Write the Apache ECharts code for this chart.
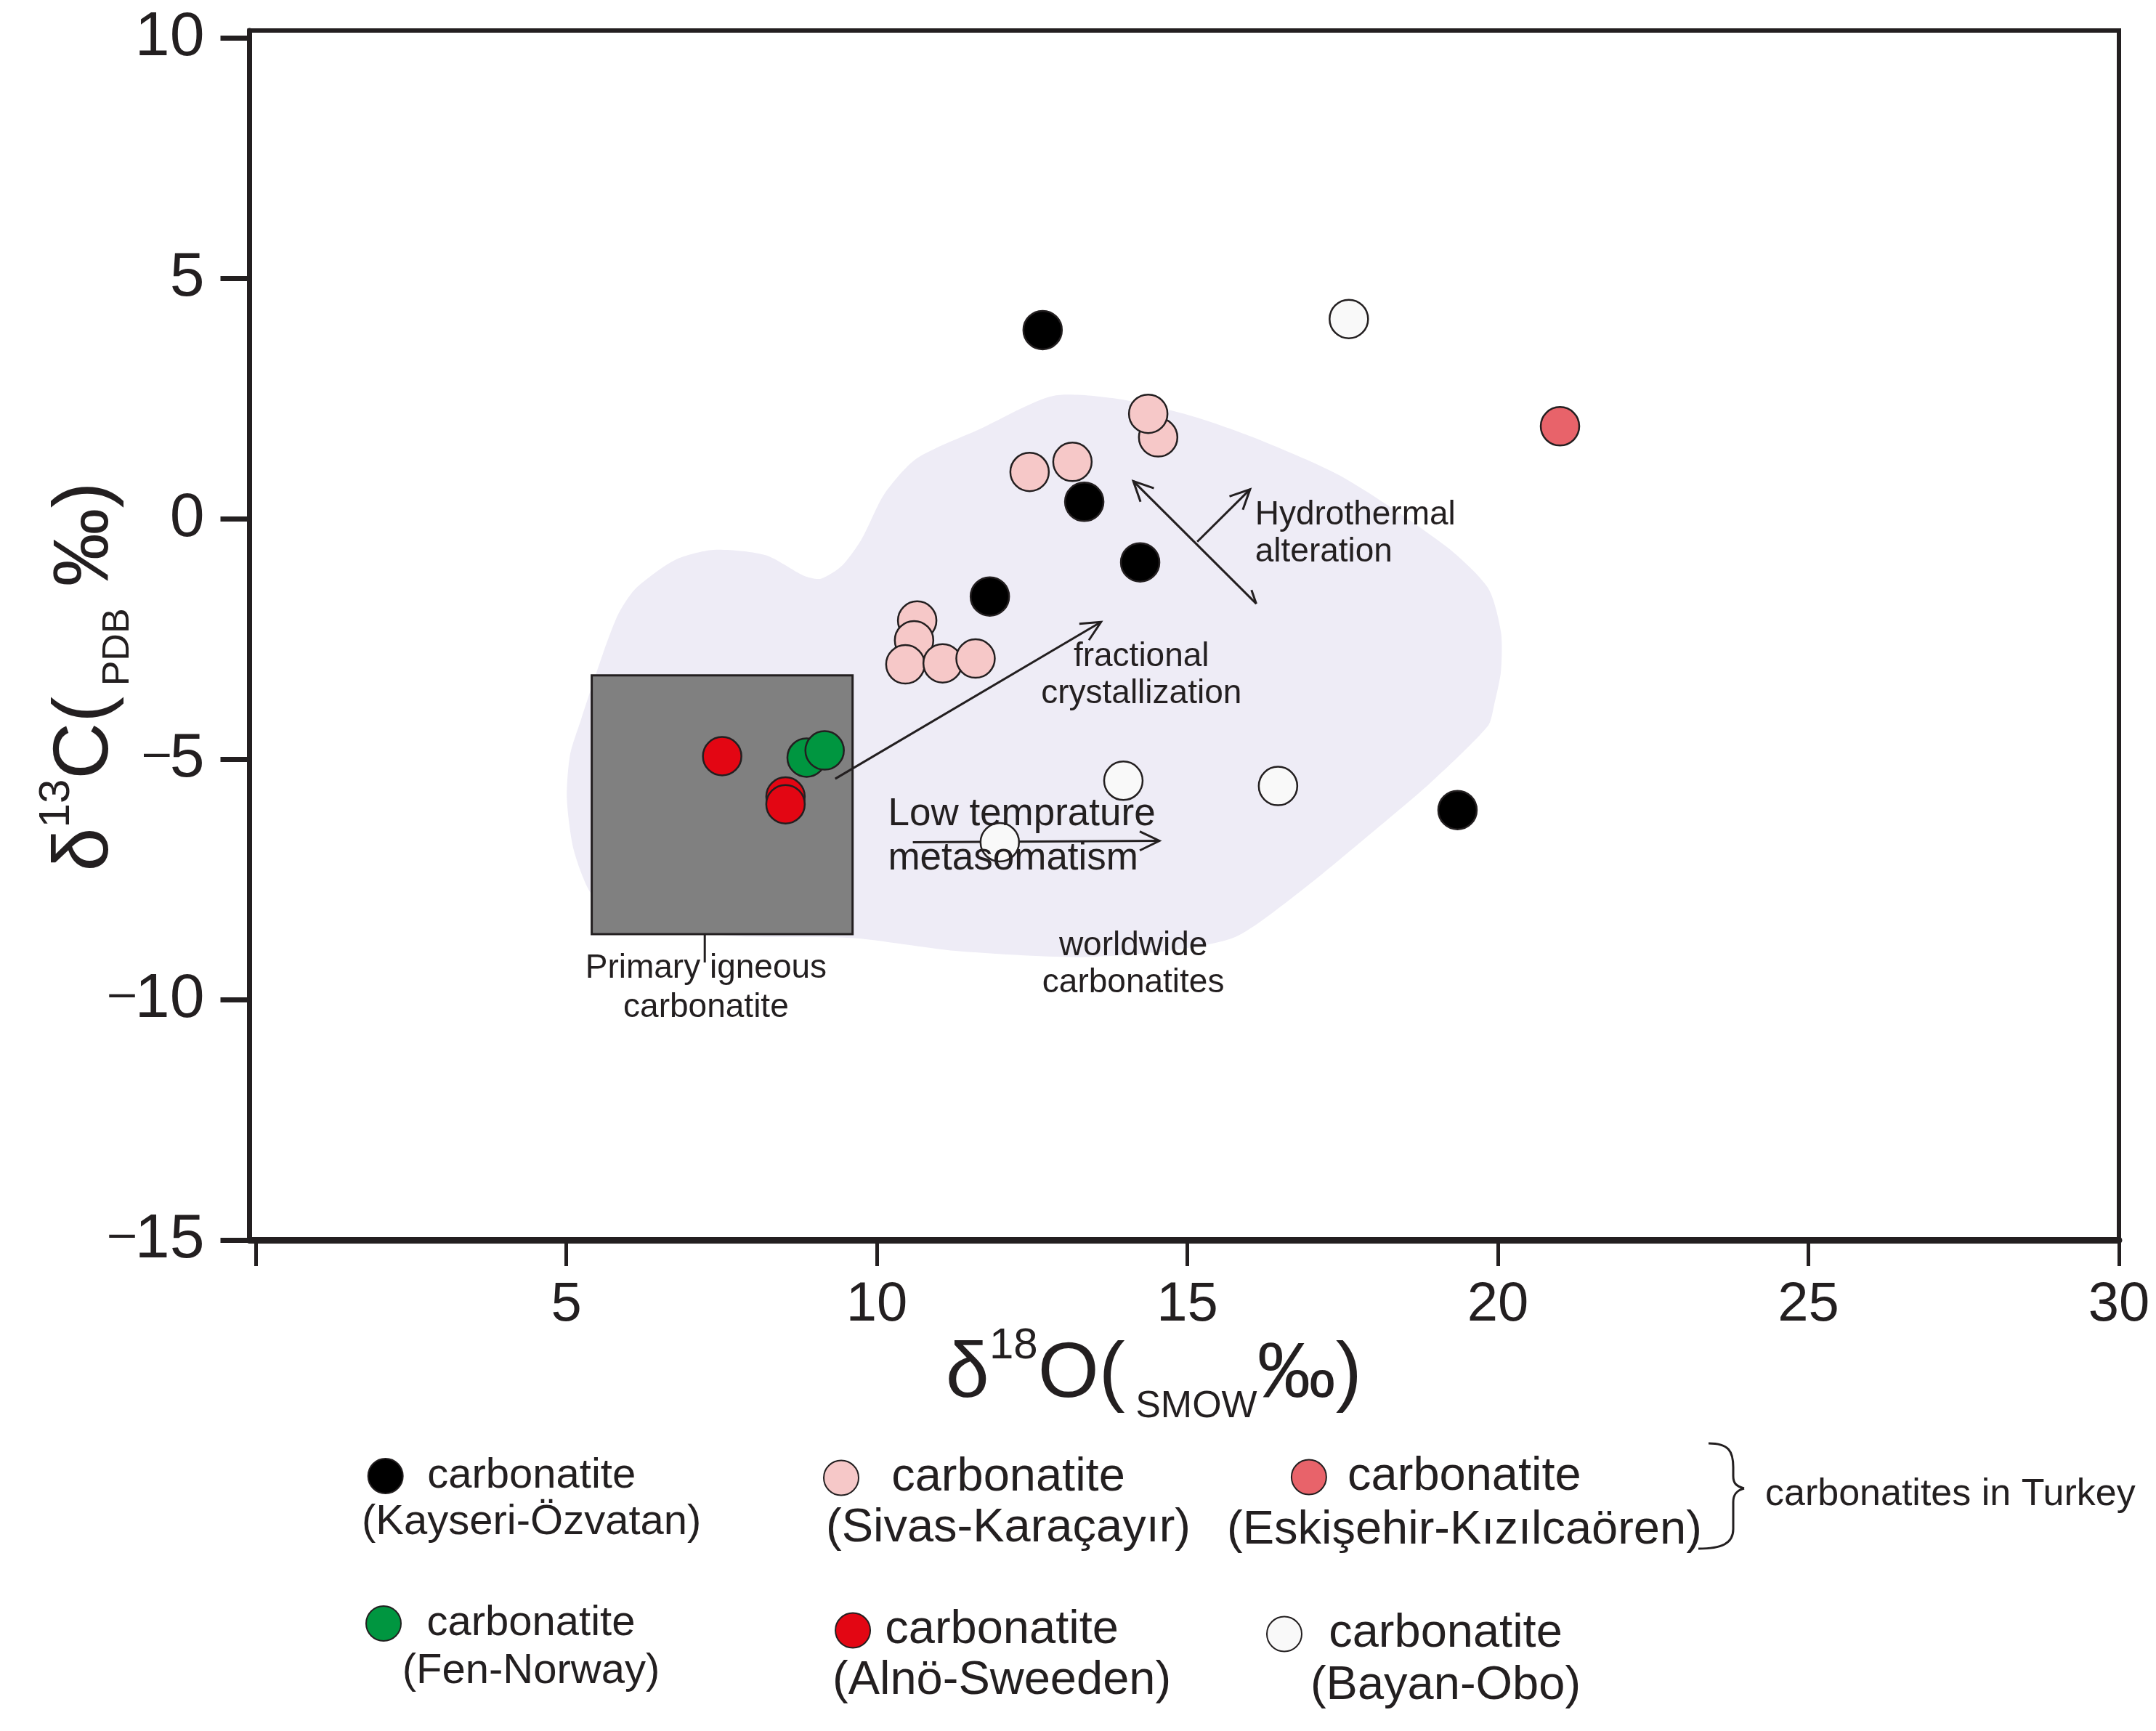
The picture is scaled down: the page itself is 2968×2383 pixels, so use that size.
<!DOCTYPE html>
<html><head><meta charset="utf-8">
<script src="https://cdn.jsdelivr.net/npm/echarts@6/dist/echarts.min.js"></script>
<style>html,body{margin:0;padding:0;background:#fff}#c{width:2968px;height:2383px}</style>
</head><body><div id="c"></div>
<script>
// ---- axis ticks ----
const xTicks = [0, 5, 10, 15, 20, 25, 30];
const xLabels = [5, 10, 15, 20, 25, 30];
const yTicks = [-15, -10, -5, 0, 5, 10];

// ---- data (δ18O SMOW, δ13C PDB) ----
const kayseri   = [[12.67, 3.92], [13.34, 0.35], [14.24, -0.91], [11.82, -1.62], [19.35, -6.06]];
const sivas     = [[14.53, 1.69], [14.37, 2.18], [12.46, 0.97], [13.15, 1.18], [10.65, -2.12], [10.60, -2.53], [10.46, -3.03], [11.06, -3.01], [11.59, -2.91]];
const eskisehir = [[21.0, 1.92]];
const fen       = [[8.87, -4.97], [9.16, -4.82]];
const alno      = [[7.51, -4.94], [8.53, -5.78], [8.53, -5.94]];
const bayan     = [[17.60, 4.15], [13.97, -5.45], [16.46, -5.56], [11.98, -6.73]];

// worldwide carbonatites field outline (data units)
const worldwideField = [[5.01,-5.83],[5.06,-4.92],[5.24,-4.17],[5.59,-2.81],[5.84,-1.98],[6.12,-1.45],[6.75,-0.86],[7.37,-0.65],[8.21,-0.76],[8.83,-1.19],[9.10,-1.25],[9.44,-0.98],[9.75,-0.44],[10.12,0.51],[10.64,1.25],[11.67,1.87],[12.83,2.55],[13.87,2.49],[15.08,2.13],[16.12,1.66],[17.52,0.85],[19.16,-0.57],[19.84,-1.44],[20.05,-2.36],[20.05,-3.17],[19.94,-3.87],[19.84,-4.31],[18.90,-5.51],[17.86,-6.65],[16.81,-7.76],[15.77,-8.70],[14.60,-9.00],[13.19,-9.12],[11.27,-8.99],[9.60,-8.72],[7.58,-8.67],[5.82,-8.28],[5.39,-7.78],[5.12,-6.89]];
// primary igneous carbonatite box [xMin, yMin, xMax, yMax] and leader line
const primaryBox = [5.41, -8.64, 9.61, -3.26];
const primaryLeader = [7.23, -8.64, 7.23, -9.23];
// trend arrows [x1, y1, x2, y2, headAtEnd, halfHeadAtStart]
const trendArrows = [
  [9.33, -5.41, 13.61, -2.15, 1, 0],
  [16.11, -1.77, 14.13, 0.78, 1, 1],
  [15.16, -0.48, 16.01, 0.61, 1, 0],
  [10.58, -6.73, 14.55, -6.70, 1, 0]
];
// annotation texts and anchors
const noteTexts = ['Hydrothermal\nalteration', 'fractional\ncrystallization', 'Low temprature\nmetasomatism', 'worldwide\ncarbonatites', 'Primary igneous\ncarbonatite'];
const notePos = [[16.09, -0.32], [14.26, -3.26], [10.18, -6.62], [14.13, -9.27], [7.25, -9.76]];

const seriesNames = ['carbonatite (Kayseri-Özvatan)', 'carbonatite (Sivas-Karaçayır)', 'carbonatite (Eskişehir-Kızılcaören)', 'carbonatite (Fen-Norway)', 'carbonatite (Alnö-Sweeden)', 'carbonatite (Bayan-Obo)'];
const seriesData = [kayseri, sivas, eskisehir, fen, alno, bayan];

// ---- styles ----
const FONT = "'Liberation Sans', Arial, Helvetica, sans-serif";
const INK = '#231f20';
const colors = ['#000000', '#f6c8c8', '#e8636a', '#009640', '#e30613', '#f9f9f9'];
const noteStyle = [
  {fontSize: 46, lineHeight: 51, align: 'left'},
  {fontSize: 46, lineHeight: 51, align: 'center'},
  {fontSize: 53, lineHeight: 61, align: 'left'},
  {fontSize: 46, lineHeight: 51, align: 'center'},
  {fontSize: 46, lineHeight: 54, align: 'center'}
];
// legend layout: bounding left, block top, text width, font, line height
const legendLayout = [
  {left: 498,  top: 1939, w: 342, fs: 58, lh: 64},
  {left: 1133, top: 1932, w: 400, fs: 65, lh: 70},
  {left: 1689, top: 1927, w: 368, fs: 65, lh: 74},
  {left: 503,  top: 2140, w: 346, fs: 58, lh: 66},
  {left: 1146, top: 2142, w: 350, fs: 65, lh: 70},
  {left: 1743, top: 2145, w: 384, fs: 65, lh: 72}
];

const yLabelFmt = v => (v < 0 ? '{d|\u2013}{n|' + Math.abs(v) + '}' : '{n|' + v + '}');

const chart = echarts.init(document.getElementById('c'), null, {renderer: 'canvas'});

const scatterSeries = seriesNames.map((name, i) => ({
  name: name,
  type: 'scatter',
  data: seriesData[i],
  symbol: 'circle',
  symbolSize: 53,
  z: 4,
  itemStyle: {color: colors[i], borderColor: INK, borderWidth: 2.5, opacity: 1},
  emphasis: {disabled: true}
}));

const legends = seriesNames.map((name, i) => {
  const L = legendLayout[i];
  const place = name.replace('carbonatite ', '');
  return {
    show: true,
    data: [name],
    left: L.left, top: L.top,
    padding: 0,
    itemWidth: 50, itemHeight: 48,
    selectedMode: false,
    formatter: () => '{s| }\n{a|carbonatite}\n{b|' + place + '}',
    textStyle: {
      width: L.w,
      color: INK,
      fontFamily: FONT,
      fontSize: L.fs,
      rich: {
        s: {fontSize: L.fs, lineHeight: L.lh, fontFamily: FONT},
        a: {fontSize: L.fs, lineHeight: L.lh, align: 'center', color: INK, fontFamily: FONT},
        b: {fontSize: L.fs, lineHeight: L.lh, align: 'center', color: INK, fontFamily: FONT}
      }
    }
  };
});

const titleRich = {
  m: {fontSize: 108, lineHeight: 140, color: INK, fontFamily: FONT},
  sup: {fontSize: 60, lineHeight: 62, verticalAlign: 'top', color: INK, fontFamily: FONT},
  sub: {fontSize: 52, lineHeight: 84, verticalAlign: 'bottom', color: INK, fontFamily: FONT}
};

const braceStyle = {stroke: INK, lineWidth: 3, fill: null};

const option = {
  animation: false,
  backgroundColor: '#ffffff',
  grid: {left: 343.5, right: 51, top: 42, bottom: 676, show: true, borderColor: INK, borderWidth: 6, backgroundColor: 'transparent', containLabel: false, outerBoundsMode: 'none'},
  xAxis: {
    type: 'value', min: -0.1, max: 30,
    axisLine: {onZero: false, lineStyle: {color: INK, width: 9}},
    axisTick: {show: true, length: 36, customValues: xTicks, lineStyle: {color: INK, width: 5}},
    axisLabel: {customValues: xLabels, margin: 52, fontSize: 76, color: INK, fontFamily: FONT},
    splitLine: {show: false},
    name: '{m|δ}{sup|18}{m|O(}{sub| SMOW}{m|‰)}',
    nameLocation: 'middle', nameGap: 116, nameMoveOverlap: false,
    nameTextStyle: {rich: titleRich, padding: [0, 84, 0, 0]}
  },
  yAxis: {
    type: 'value', min: -15, max: 10.15,
    axisLine: {onZero: false, lineStyle: {color: INK, width: 7}},
    axisTick: {show: true, length: 40, customValues: yTicks, lineStyle: {color: INK, width: 7}},
    axisLabel: {customValues: yTicks, margin: 62, fontSize: 86, color: INK, fontFamily: FONT, formatter: yLabelFmt,
      rich: {
        d: {fontSize: 64, color: INK, fontFamily: FONT, padding: [0, 0, 14, 0]},
        n: {fontSize: 86, color: INK, fontFamily: FONT}
      }},
    splitLine: {show: false},
    name: '{m|δ}{sup|13}{m|C(}{sub| PDB}{m| ‰)}',
    nameLocation: 'middle', nameGap: 155, nameRotate: 90, nameMoveOverlap: false,
    nameTextStyle: {rich: titleRich, padding: [0, 114, 0, 0]}
  },
  legend: legends,
  graphic: [
    {type: 'text', x: 2430, y: 2058, z: 10, style: {text: 'carbonatites in Turkey', fontSize: 52, fontFamily: FONT, fill: INK, verticalAlign: 'middle'}},
    {type: 'group', z: 10, children: [
      {type: 'bezierCurve', shape: {x1: 2352, y1: 1987, cpx1: 2380, cpy1: 1987, cpx2: 2386, cpy2: 1998, x2: 2386, y2: 2020}, style: braceStyle},
      {type: 'line', shape: {x1: 2386, y1: 2020, x2: 2386, y2: 2032}, style: braceStyle},
      {type: 'bezierCurve', shape: {x1: 2386, y1: 2032, cpx1: 2386, cpy1: 2042, cpx2: 2390, cpy2: 2046, x2: 2401, y2: 2049}, style: braceStyle},
      {type: 'bezierCurve', shape: {x1: 2401, y1: 2049, cpx1: 2390, cpy1: 2052, cpx2: 2386, cpy2: 2058, x2: 2386, y2: 2068}, style: braceStyle},
      {type: 'line', shape: {x1: 2386, y1: 2068, x2: 2386, y2: 2105}, style: braceStyle},
      {type: 'bezierCurve', shape: {x1: 2386, y1: 2105, cpx1: 2386, cpy1: 2125, cpx2: 2370, cpy2: 2132, x2: 2338, y2: 2132}, style: braceStyle}
    ]}
  ],
  series: [
    {
      type: 'custom', name: 'field', silent: true, z: 1,
      data: [[0, 0]],
      renderItem: (p, api) => ({
        type: 'polygon',
        shape: {points: worldwideField.map(d => api.coord(d)), smooth: 0.25},
        style: {fill: '#eeecf6'}
      })
    },
    {
      type: 'custom', name: 'primary', silent: true, z: 2,
      data: [[0, 0]],
      renderItem: (p, api) => {
        const a = api.coord([primaryBox[0], primaryBox[3]]);
        const b = api.coord([primaryBox[2], primaryBox[1]]);
        const l1 = api.coord([primaryLeader[0], primaryLeader[1]]);
        const l2 = api.coord([primaryLeader[2], primaryLeader[3]]);
        return {type: 'group', children: [
          {type: 'rect', shape: {x: a[0], y: a[1], width: b[0] - a[0], height: b[1] - a[1]}, style: {fill: '#808080', stroke: INK, lineWidth: 3}},
          {type: 'line', shape: {x1: l1[0], y1: l1[1], x2: l2[0], y2: l2[1]}, style: {stroke: INK, lineWidth: 3}}
        ]};
      }
    },
    {
      type: 'custom', name: 'arrows', silent: true, z: 3,
      data: trendArrows,
      renderItem: (p, api) => {
        const a = trendArrows[p.dataIndex];
        const p1 = api.coord([a[0], a[1]]);
        const p2 = api.coord([a[2], a[3]]);
        const ang = Math.atan2(p2[1] - p1[1], p2[0] - p1[0]);
        const L = 30, w = 0.45;
        const ch = [{type: 'line', shape: {x1: p1[0], y1: p1[1], x2: p2[0], y2: p2[1]}, style: {stroke: INK, lineWidth: 3}}];
        if (a[4]) {
          ch.push({type: 'polyline', shape: {points: [
            [p2[0] - L * Math.cos(ang - w), p2[1] - L * Math.sin(ang - w)], p2,
            [p2[0] - L * Math.cos(ang + w), p2[1] - L * Math.sin(ang + w)]]},
            style: {stroke: INK, lineWidth: 3, fill: null}});
        }
        if (a[5]) {
          const b = ang + Math.PI;
          ch.push({type: 'polyline', shape: {points: [p1,
            [p1[0] - 20 * Math.cos(b + w), p1[1] - 20 * Math.sin(b + w)]]},
            style: {stroke: INK, lineWidth: 3, fill: null}});
        }
        return {type: 'group', children: ch};
      }
    },
    ...scatterSeries,
    {
      type: 'custom', name: 'notes', silent: true, z: 6,
      data: notePos,
      renderItem: (p, api) => {
        const i = p.dataIndex;
        const pt = api.coord(notePos[i]);
        const s = noteStyle[i];
        return {type: 'text', x: pt[0], y: pt[1], style: {
          text: noteTexts[i], fontSize: s.fontSize, lineHeight: s.lineHeight,
          align: s.align, verticalAlign: 'middle', fill: INK, fontFamily: FONT
        }};
      }
    }
  ]
};
chart.setOption(option);
</script></body></html>
